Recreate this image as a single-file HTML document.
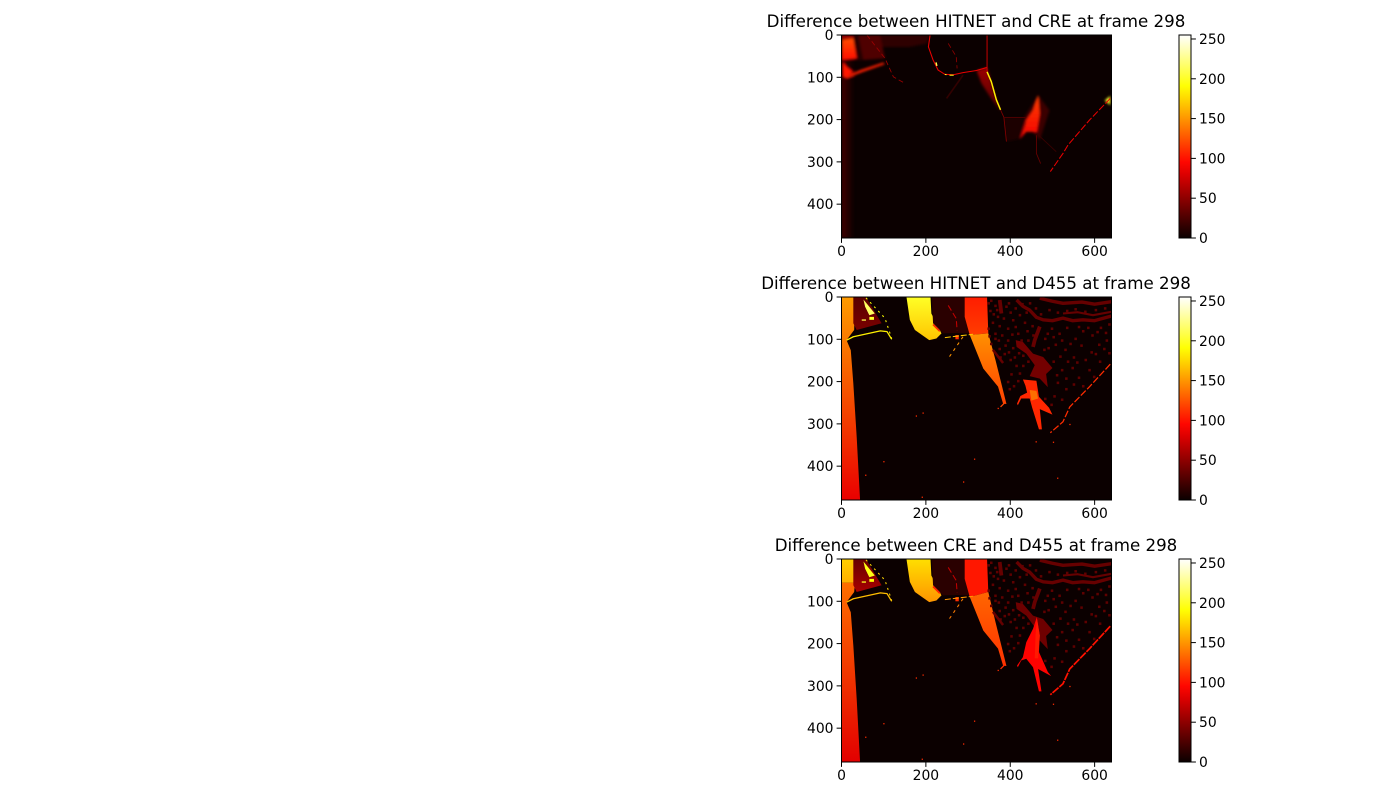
<!DOCTYPE html>
<html>
<head>
<meta charset="utf-8">
<title>Depth differences at frame 298</title>
<style>
html,body{margin:0;padding:0;background:#fff;width:1400px;height:800px;overflow:hidden}
svg{display:block}
text{font-family:"DejaVu Sans","Liberation Sans",sans-serif;fill:#000}
</style>
</head>
<body>
<svg id="figure" width="1400" height="800" viewBox="0 0 1400 800" xmlns="http://www.w3.org/2000/svg"><defs id="defs"></defs></svg>
<script>
const panelTitles = [
  "Difference between HITNET and CRE at frame 298",
  "Difference between HITNET and D455 at frame 298",
  "Difference between CRE and D455 at frame 298"
];
const xTicks = [0, 200, 400, 600];
const yTicks = [0, 100, 200, 300, 400];
const colorbarTicks = [0, 50, 100, 150, 200, 250];
const backgroundValues = [0, 0, 0];

/* Heatmap regions, in image pixels: points, value, optional end value and gradient direction */
const panel1Regions = [
  {p:[[0,60],[30,60],[30,480],[0,480]],v:20,v2:1,dir:"h"},
  {p:[[0,0],[209,0],[202,20],[162,28],[99,28],[52,59],[0,59]],v:14},
  {p:[[40,0],[91,0],[103,55],[52,59]],v:26},
  {p:[[0,0],[28,0],[28,8],[0,12]],v:55},
  {p:[[28,0],[40,0],[52,59],[38,55]],v:10},
  {p:[[1,12],[28,8],[36,55],[1,59]],v:122,v2:98},
  {p:[[3,63],[12,75],[27,87],[12,99],[4,99]],v:100},
  {p:[[8,99],[44,83],[99,65],[103,69],[52,87],[12,102]],v:105},
  {p:[[320,84],[345,77],[359,126],[377,181],[352,146],[332,115]],v:55,v2:24},
  {p:[[466,142],[493,178],[470,249],[430,200]],v:18},
  {p:[[385,195],[437,195],[424,245],[391,252]],v:7},
  {p:[[466,142],[470,186],[463,229],[438,229],[424,245],[438,201],[454,178]],v:118,v2:88},
  {p:[[624,155],[637,144],[637,166]],v:200}
];
const panel1Lines = [
  {p:[[210,0],[206,28],[217,59],[229,83],[245,93],[265,94],[288,89],[320,84],[344,77]],v:85,w:2.5},
  {p:[[224,65],[226,73]],v:210,w:3.5},
  {p:[[245,93],[249,94]],v:195,w:2.5},
  {p:[[256,95],[266,95]],v:195,w:2.5},
  {p:[[345,0],[345,87]],v:85,w:2},
  {p:[[345,87],[355,110],[367,153],[377,177]],v:185,w:3.5},
  {p:[[377,177],[385,195],[391,252]],v:45,w:2},
  {p:[[60,0],[103,55],[123,99],[150,114]],v:55,w:2,dash:"5 3"},
  {p:[[253,20],[272,51],[274,79]],v:50,w:2,dash:"5 3"},
  {p:[[637,150],[588,201],[537,260],[525,280],[495,323]],v:85,w:2.5,dash:"7 2"},
  {p:[[462,237],[462,280],[472,304]],v:35,w:2},
  {p:[[463,233],[509,276]],v:18,w:2},
  {p:[[288,95],[249,150]],v:15,w:4},
  {p:[[385,195],[437,195]],v:28,w:2}
];
const panel2Regions = [
  {p:[[1,0],[32,0],[30,78],[12,102],[22,126],[28,204],[36,331],[44,480],[1,480]],v:152,v2:85},
  {p:[[28,0],[58,0],[95,62],[36,78],[28,62]],v:30,v2:42},
  {p:[[52,6],[79,39],[66,43],[56,23]],v:215},
  {p:[[48,53],[58,53],[58,56],[48,56]],v:210},
  {p:[[66,47],[77,47],[77,54],[66,54]],v:200},
  {p:[[154,0],[211,0],[213,39],[237,86],[225,98],[208,102],[174,78],[162,54]],v:200,v2:168},
  {p:[[222,10],[228,16],[226,26],[220,26],[217,16]],v:235},
  {p:[[214,0],[292,0],[308,86],[273,85],[241,86],[217,62]],v:12},
  {p:[[270,90],[278,90],[278,100],[270,100]],v:110},
  {p:[[292,0],[345,0],[348,86],[304,90],[292,47]],v:104,v2:116},
  {p:[[304,90],[348,86],[365,149],[391,253],[383,252],[371,212],[336,169]],v:148,v2:118},
  {p:[[413,102],[430,106],[454,134],[478,142],[500,168],[485,182],[489,213],[470,193],[446,187],[458,161],[438,134],[415,118]],v:40},
  {p:[[430,195],[462,198],[468,236],[492,262],[500,278],[470,265],[475,313],[468,313],[452,262],[446,240],[426,240],[418,256],[416,252],[424,234],[440,226],[436,210]],v:108},
  {p:[[446,220],[462,222],[466,240],[450,245]],v:135}
];
const panel2Lines = [
  {p:[[470,70],[458,102],[454,118]],v:35,w:9},
  {p:[[415,7],[430,22],[446,31],[462,48],[478,54],[500,56],[525,50],[548,56],[572,54],[600,56],[640,45]],v:35,w:8},
  {p:[[470,3],[500,10],[525,15],[570,12],[600,17],[640,11]],v:35,w:8},
  {p:[[525,39],[560,36],[596,43],[640,35]],v:35,w:5},
  {p:[[375,7],[379,39]],v:35,w:9},
  {p:[[359,125],[383,156]],v:35,w:6},
  {p:[[12,102],[28,94],[92,80],[108,82],[119,100]],v:185,w:3},
  {p:[[58,2],[103,50],[119,98]],v:190,w:2.5,dash:"2 4"},
  {p:[[253,20],[272,51],[274,79]],v:70,w:2.5,dash:"6 3"},
  {p:[[217,65],[233,81]],v:110,w:4},
  {p:[[245,96],[312,88]],v:170,w:2.5,dash:"6 2"},
  {p:[[288,94],[256,141]],v:150,w:2.5,dash:"3 4"},
  {p:[[377,260],[387,250]],v:120,w:3},
  {p:[[637,159],[588,212],[541,260],[525,295],[495,321]],v:110,w:3,dash:"7 2"}
];
const panel3Regions = [
  {p:[[1,56],[32,56],[30,78],[12,102],[22,126],[28,204],[36,331],[44,480],[1,480]],v:135,v2:82},
  {p:[[1,0],[32,0],[32,56],[1,56]],v:172,v2:160},
  {p:[[28,0],[58,0],[95,62],[36,78],[28,62]],v:35,v2:60},
  {p:[[52,6],[79,39],[66,43],[56,23]],v:195},
  {p:[[48,53],[58,53],[58,56],[48,56]],v:200},
  {p:[[66,47],[77,47],[77,54],[66,54]],v:190},
  {p:[[154,0],[211,0],[213,39],[237,86],[225,98],[208,102],[174,78],[162,54]],v:178,v2:150},
  {p:[[222,10],[228,16],[226,26],[220,26],[217,16]],v:215},
  {p:[[214,0],[292,0],[308,86],[273,85],[241,86],[217,62]],v:12},
  {p:[[270,90],[278,90],[278,100],[270,100]],v:110},
  {p:[[292,0],[345,0],[348,78],[304,90],[292,47]],v:102},
  {p:[[304,90],[348,78],[365,149],[391,253],[383,252],[371,212],[336,169]],v:132,v2:112},
  {p:[[413,102],[430,106],[454,134],[478,142],[500,168],[485,182],[489,213],[470,193],[446,187],[458,161],[438,134],[415,118]],v:38},
  {p:[[463,137],[470,181],[468,220],[489,267],[497,277],[466,260],[474,313],[468,313],[454,256],[438,236],[426,240],[418,256],[416,252],[430,232],[438,197],[454,165]],v:94},
  {p:[[463,140],[470,181],[466,235],[458,235],[460,180]],v:103}
];
const panel3Lines = [
  {p:[[470,70],[458,102],[454,118]],v:35,w:9},
  {p:[[415,7],[430,22],[446,31],[462,48],[478,54],[500,56],[525,50],[548,56],[572,54],[600,56],[640,45]],v:35,w:8},
  {p:[[470,3],[500,10],[525,15],[570,12],[600,17],[640,11]],v:35,w:8},
  {p:[[525,39],[560,36],[596,43],[640,35]],v:35,w:5},
  {p:[[375,7],[379,39]],v:35,w:9},
  {p:[[359,125],[383,156]],v:35,w:6},
  {p:[[12,102],[28,94],[92,80],[108,82],[119,100]],v:165,w:3},
  {p:[[58,2],[103,50],[119,98]],v:175,w:2.5,dash:"2 4"},
  {p:[[253,20],[272,51],[274,79]],v:70,w:2.5,dash:"6 3"},
  {p:[[217,65],[233,81]],v:105,w:4},
  {p:[[245,96],[312,88]],v:150,w:2.5,dash:"6 2"},
  {p:[[288,94],[256,141]],v:140,w:2.5,dash:"3 4"},
  {p:[[377,260],[387,250]],v:110,w:3},
  {p:[[637,159],[588,212],[541,260],[525,295],[495,321]],v:100,w:4,dash:"8 1"}
];
const mottleSpecks = [
  [352,6],[362,18],[350,30],[368,44],[356,58],[346,72],[372,66],[388,20],[398,34],[404,52],[392,72],[410,68],[378,88],[362,96],[392,100],
  [420,40],[432,58],[416,84],[438,78],[450,66],[444,12],[458,24],[470,38],[490,28],[510,34],[532,30],[552,26],[575,32],[600,28],[622,24],
  [496,72],[514,84],[532,70],[552,96],[570,78],[592,88],[612,70],[632,62],[480,96],[505,110],[528,122],[548,140],[566,112],[590,128],[608,110],
  [626,100],[500,150],[520,170],[545,165],[560,188],[585,170],[610,150],[632,130],[372,120],[384,132],[398,146],[412,160],[400,180],[420,178],[392,198],
  [440,150],[428,136],[370,100],[352,108],[510,200],[530,215],[502,232],[520,240],[480,238],[495,252],
  [346,12],[358,38],[366,28],[382,48],[394,12],[410,24],[426,14],[436,34],[402,86],[386,112],[374,140],[362,84],[348,90],[424,100],[404,118],
  [418,130],[394,128],[408,140],[428,160],[416,196],[406,208],[396,215],[440,100],[452,88],[486,84],[500,92],[520,100],[540,108],[560,68],[582,70],
  [604,80],[624,82],[488,118],[478,122],[516,138],[534,150],[556,152],[576,146],[600,132],[620,120],[508,182],[530,190],[548,204],[570,208],[596,186]
];
const hotSpecks = [
  [176,280],[192,273],[99,388],[314,382],[288,436],[190,472],[56,420],[511,427],[460,341],[501,342],[370,262],[540,300]
];
const panelRegions = [panel1Regions, panel2Regions, panel3Regions];
const panelLines = [panel1Lines, panel2Lines, panel3Lines];
const panelMottle = [[], mottleSpecks, mottleSpecks];
const panelHotSpecks = [[], hotSpecks, hotSpecks];

const NS = "http://www.w3.org/2000/svg";
const svg = document.getElementById("figure");
const defs = document.getElementById("defs");
const IMG_W = 640, IMG_H = 480, VMAX = 255;
const AX_LEFT = 841.5, AX_W = 270, AX_H = 203, CB_LEFT = 1179, CB_W = 12;
const panelTops = [35, 297, 559];
let gradId = 0;

function make(tag, attrs, parent) {
  const el = document.createElementNS(NS, tag);
  for (const k in attrs) el.setAttribute(k, attrs[k]);
  parent.appendChild(el);
  return el;
}
function hot(v) {
  const x = Math.max(0, Math.min(1, v / VMAX));
  const c = t => Math.round(Math.max(0, Math.min(1, t)) * 255);
  const r = c(0.0416 + x * (1 - 0.0416) / 0.365079);
  const g = c((x - 0.365079) / (0.746032 - 0.365079));
  const b = c((x - 0.746032) / (1 - 0.746032));
  return "rgb(" + r + "," + g + "," + b + ")";
}
function gradient(v, v2, dir) {
  const id = "grad" + (gradId++);
  const g = make("linearGradient", {id: id, x1: 0, y1: 0, x2: dir === "h" ? 1 : 0, y2: dir === "h" ? 0 : 1}, defs);
  make("stop", {offset: "0", "stop-color": hot(v)}, g);
  make("stop", {offset: "1", "stop-color": hot(v2)}, g);
  return "url(#" + id + ")";
}
const blur = make("filter", {id: "soft", x: "-10%", y: "-10%", width: "120%", height: "120%"}, defs);
make("feGaussianBlur", {stdDeviation: "1.2"}, blur);

panelTitles.forEach(function (title, i) {
  const top = panelTops[i];
  const xScale = d => AX_LEFT + d / IMG_W * AX_W;
  const yScale = d => top + d / IMG_H * AX_H;
  const unit = AX_W / IMG_W;
  const toPoints = pts => pts.map(q => xScale(q[0]).toFixed(2) + "," + yScale(q[1]).toFixed(2)).join(" ");

  const panel = make("g", {}, svg);
  
  

  const clip = make("clipPath", {id: "clip" + i}, defs);
  make("rect", {x: xScale(0), y: yScale(0), width: AX_W, height: AX_H}, clip);

  const image = make("g", {"clip-path": "url(#clip" + i + ")"}, panel);
  
  

  const bg = make("rect", {x: xScale(0), y: yScale(0), width: AX_W, height: AX_H, fill: hot(backgroundValues[i])}, image);
  
  

  const regionLayer = make("g", i === 0 ? {filter: "url(#soft)"} : {}, image);
  panelRegions[i].forEach(function (r) {
    const fill = r.v2 === undefined ? hot(r.v) : gradient(r.v, r.v2, r.dir);
    const poly = make("polygon", {points: toPoints(r.p), fill: fill}, regionLayer);
    
    
  });
  panelMottle[i].forEach(function (s) {
    const cell = make("rect", {x: xScale(s[0]), y: yScale(s[1]), width: 6 * unit, height: 6 * unit, fill: hot(32)}, image);
    
    
  });
  panelLines[i].forEach(function (l) {
    const attrs = {points: toPoints(l.p), fill: "none", stroke: hot(l.v), "stroke-width": l.w * unit, "stroke-linejoin": "round"};
    if (l.dash) attrs["stroke-dasharray"] = l.dash;
    const line = make("polyline", attrs, image);
    
    
  });
  panelHotSpecks[i].forEach(function (s) {
    const cell = make("rect", {x: xScale(s[0]), y: yScale(s[1]), width: 3 * unit, height: 3 * unit, fill: hot(110)}, image);
    
    
  });

  const frame = make("rect", {x: xScale(0), y: yScale(0), width: AX_W, height: AX_H, fill: "none", stroke: "#000", "stroke-width": 1}, panel);
  
  

  const titleEl = make("text", {x: AX_LEFT + AX_W / 2 - 0.5, y: top - 8, "text-anchor": "middle", "font-size": 16.67}, panel);
  titleEl.textContent = title;
  
  

  xTicks.forEach(function (t) {
    const tick = make("line", {x1: xScale(t), x2: xScale(t), y1: top + AX_H, y2: top + AX_H + 4.9, stroke: "#000", "stroke-width": 1}, panel);
    
    
    const label = make("text", {x: xScale(t), y: top + AX_H + 18, "text-anchor": "middle", "font-size": 13.89}, panel);
    label.textContent = t;
    
    
  });
  yTicks.forEach(function (t) {
    const tick = make("line", {x1: xScale(0) - 4.9, x2: xScale(0), y1: yScale(t), y2: yScale(t), stroke: "#000", "stroke-width": 1}, panel);
    
    
    const label = make("text", {x: xScale(0) - 8, y: yScale(t) + 5, "text-anchor": "end", "font-size": 13.89}, panel);
    label.textContent = t;
    
    
  });

  /* colorbar */
  const cbScale = v => top + AX_H - v / VMAX * AX_H;
  const cb = make("g", {}, panel);
  
  
  const cbId = "cb" + i;
  const cbGrad = make("linearGradient", {id: cbId, x1: 0, y1: 1, x2: 0, y2: 0}, defs);
  for (let s = 0; s <= 16; s++) {
    make("stop", {offset: s / 16, "stop-color": hot(s / 16 * VMAX)}, cbGrad);
  }
  const bar = make("rect", {x: CB_LEFT, y: top, width: CB_W, height: AX_H, fill: "url(#" + cbId + ")", stroke: "#000", "stroke-width": 1}, cb);
  
  
  colorbarTicks.forEach(function (t) {
    const tick = make("line", {x1: CB_LEFT + CB_W, x2: CB_LEFT + CB_W + 4.9, y1: cbScale(t), y2: cbScale(t), stroke: "#000", "stroke-width": 1}, cb);
    
    
    const label = make("text", {x: CB_LEFT + CB_W + 8, y: cbScale(t) + 5, "font-size": 13.89}, cb);
    label.textContent = t;
    
    
  });
});
</script>
</body>
</html>
